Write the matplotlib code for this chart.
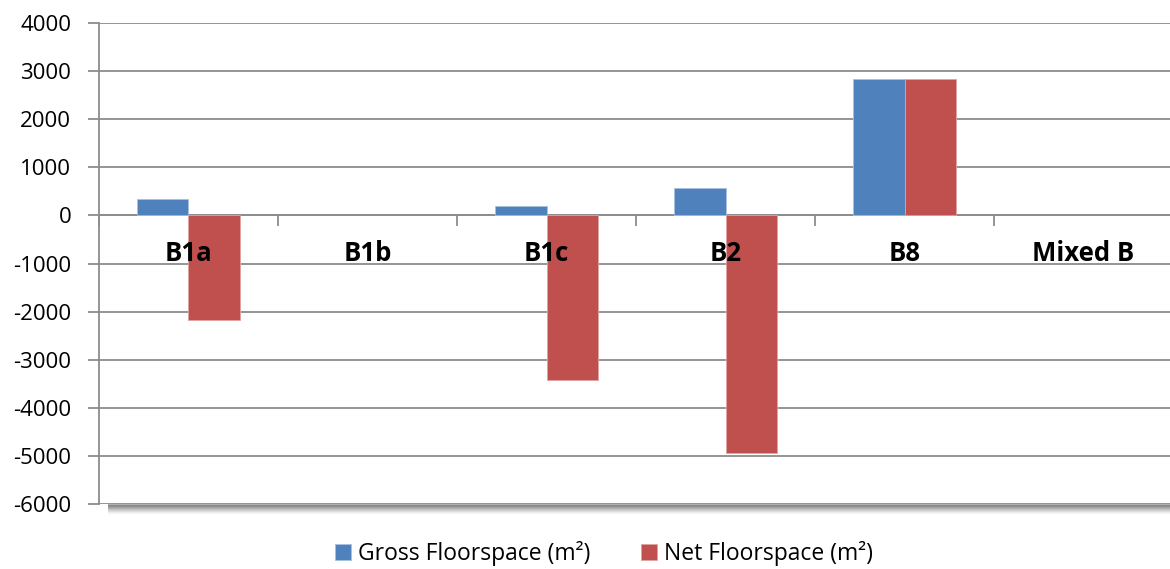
import matplotlib.pyplot as plt
import numpy as np

categories = ["B1a", "B1b", "B1c", "B2", "B8", "Mixed B"]
gross = [350, 0, 190, 575, 2840, 0]
net = [-2180, 0, -3430, -4940, 2840, 0]

blue = "#4F81BD"
red = "#C0504D"
grid_col = "#8c8c8c"

plt.rcParams["font.family"] = ["Open Sans", "DejaVu Sans"]
plt.rcParams["axes.unicode_minus"] = False

fig = plt.figure(figsize=(11.7, 5.69), dpi=100)
ax = fig.add_axes([0.0846, 0.1142, 0.918, 0.8454])

x = np.arange(len(categories))
w = 1 / 3.5
ax.bar(x - w / 2, gross, w, color=blue, edgecolor="#a9c1e0",
       linewidth=[0.6 if v else 0 for v in gross],
       label="Gross Floorspace (m²)", zorder=3)
ax.bar(x + w / 2, net, w, color=red, edgecolor="#e0a3a2",
       linewidth=[0.6 if v else 0 for v in net],
       label="Net Floorspace (m²)", zorder=3)

ax.set_xlim(-0.5, len(categories) - 0.5)
ax.set_ylim(-6000, 4000)
ax.set_yticks(np.arange(-6000, 4001, 1000))
ax.yaxis.grid(True, color=grid_col, linewidth=1.3, zorder=0)
ax.tick_params(axis="y", length=8, width=1.3, color=grid_col, labelsize=16, pad=12)

# x-axis sits on zero, ticks at category boundaries
ax.spines["bottom"].set_position(("data", 0))
ax.spines["bottom"].set_color(grid_col)
ax.spines["bottom"].set_linewidth(1.3)
ax.set_xticks(np.arange(-0.5, len(categories) - 0.4, 1))
ax.set_xticklabels([])
ax.tick_params(axis="x", length=8, width=1.3, color=grid_col, direction="out")
for s in ["top", "right"]:
    ax.spines[s].set_visible(False)
ax.spines["left"].set_color(grid_col)
ax.spines["left"].set_linewidth(1.3)

for xi, name in zip(x, categories):
    ax.text(xi, -800, name, ha="center", va="center", fontsize=18.5,
            fontweight="bold", zorder=4)

# soft shadow under the plot area
for i in range(10):
    ax.plot([-0.45, len(categories) - 0.5], [-6000 - 20 - i * 20] * 2,
            color="#000000", alpha=0.28 * (1 - i / 10) ** 1.5, linewidth=1.6,
            clip_on=False, zorder=1, solid_capstyle="butt")

ax.legend(loc="center", bbox_to_anchor=(0.47, -0.102), ncol=2,
          frameon=False, fontsize=16.5, handlelength=0.7, handleheight=0.7,
          columnspacing=2.2, handletextpad=0.3)

fig.savefig("out.png", dpi=100)
